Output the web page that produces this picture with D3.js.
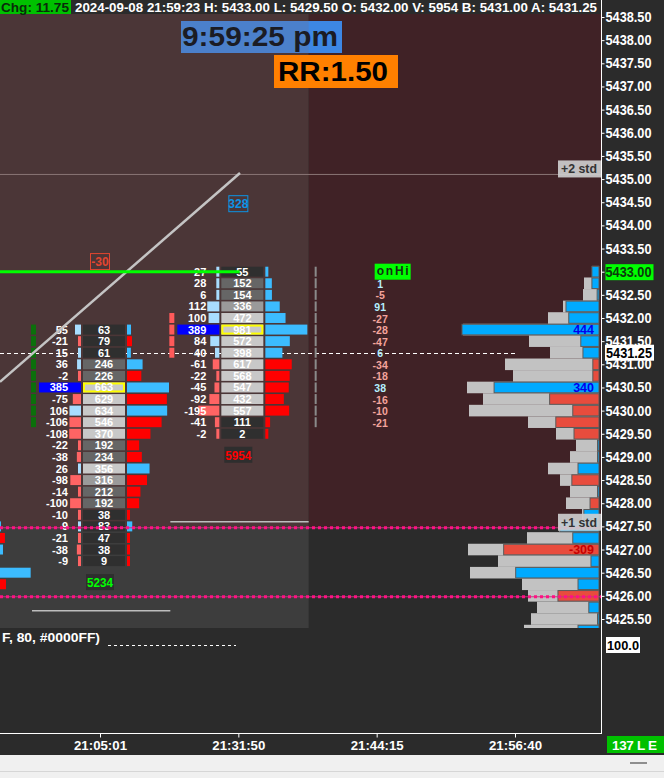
<!DOCTYPE html>
<html>
<head>
<meta charset="utf-8">
<script src="https://cdn.jsdelivr.net/npm/d3@7/dist/d3.min.js"></script>
<style>
html,body{margin:0;padding:0;background:#2b2b2b;overflow:hidden;}
svg{display:block;}
text{font-family:"Liberation Sans",Arial,Helvetica,sans-serif;}
</style>
</head>
<body>
<svg id="chart" width="664" height="778"></svg>
<script>
// ---------------- DATA ----------------
const TICK_SIZE = 0.25;
const priceTickValues = [5438.5,5438,5437.5,5437,5436.5,5436,5435.5,5435,5434.5,5434,5433.5,5433,5432.5,5432,5431.5,5431,5430.5,5430,5429.5,5429,5428.5,5428,5427.5,5427,5426.5,5426,5425.5];
const timeLabels = ["21:05:01","21:31:50","21:44:15","21:56:40"];

const headerChg = "Chg: 11.75";
const headerInfo = "2024-09-08 21:59:23 H: 5433.00 L: 5429.50 O: 5432.00 V: 5954 B: 5431.00 A: 5431.25";
const clockText = "9:59:25 pm";
const rrText = "RR:1.50";

// previous bar (almost entirely off-screen, only its right-side bars peek in)
const prevHigh = 5427.5;
const prevVolume = [164,217,191,120,560,231];
const prevDelta = [14,-25,17,6,150,-33];

// bar 0 (21:05:01)
const bar0High = 5431.75;
const bar0Volume = [63,79,61,246,226,663,629,634,546,370,192,234,356,316,212,192,38,83,47,38,9];
const bar0Delta  = [55,-21,15,36,-2,385,-75,106,-106,-108,-22,-38,26,-98,-14,-100,-10,9,-21,-38,-9];
const bar0Marks  = [5431.75,5431.5,5431.25,5431,5430.75,5430.5,5430.25,5430,5429.75];

// bar 1 (21:31:50)
const bar1High = 5433.0;
const bar1Volume = [55,152,154,336,472,981,572,398,617,568,547,432,557,111,2];
const bar1Delta  = [27,28,6,112,100,389,84,40,-61,-22,-45,-92,-195,-41,-2];
const bar1Marks  = [5432,5431.75,5431.5,5431.25];

// bar 2 (21:44:15) – delta only
const bar2High = 5432.75;
const bar2Delta = [1,-5,91,-27,-28,-47,6,-34,-18,38,-16,-10,-21];
const bar2Marks = [5433,5432.75,5432.5,5432.25,5432,5431.75,5431.5,5431.25,5431,5430.75,5430.5,5430.25,5430,5429.75];

// session volume profile (right side)
const profileHigh = 5433.0;
const profileVolume = [70,150,160,360,510,1360,700,490,940,860,1320,1160,1300,710,430,230,290,510,390,290,330,170,400,720,1310,1010,1290,770,710,620,680,750];
const profileDelta  = [23,23,6,107,98,444,59,52,-20,-20,340,-160,-85,-140,-81,3,2,68,-88,3,-29,49,127,85,-309,26,270,68,-133,33,3,68];

const lastPrice = 5431.25;
const onHiPrice = 5433.0;
const onHiSpan = [-1, 1.01];
const std2Price = 5435.1;
const std1Price = 5427.47;
const vwapPrice = 5425.98;
const barLineBars = [0, 1];
const barLinePrices = [5425.68, 5427.6];
const trendBars = [-0.723, 1.012];
const trendPrices = [5430.62, 5435.13];
const lowerPaneValue = "100.0";
const lowerPaneText = "F, 80, #0000FF)";
const statusText = "137 L E";

// ---------------- SCALES ----------------
const y = d3.scaleLinear().domain([5438.5, 5425.5]).range([17, 619]);
const rowH = y(5438.25) - y(5438.5);
const x = d3.scaleLinear().domain([0, 3]).range([100, 515]);
const barStart = i => x(i) - 68;
const PANE_TOP = 14, PANE_BOT = 628, PLOT_R = 601, AXIS_Y = 733;

const svg = d3.select("#chart");
svg.append("rect").attr("width",664).attr("height",778).attr("fill","#2b2b2b");
svg.append("defs").append("clipPath").attr("id","pane")
  .append("rect").attr("x",0).attr("y",PANE_TOP).attr("width",PLOT_R).attr("height",PANE_BOT-PANE_TOP);
const pane = svg.append("g").attr("clip-path","url(#pane)");

// ---------------- BACKGROUNDS ----------------
const splitX = barStart(2);
const tintBottom = y(std1Price);
pane.append("rect").attr("x",0).attr("y",PANE_TOP).attr("width",splitX).attr("height",PANE_BOT-PANE_TOP).attr("fill","#3d3d3d");
pane.append("rect").attr("x",0).attr("y",PANE_TOP).attr("width",splitX).attr("height",tintBottom-PANE_TOP).attr("fill","#4b3637");
pane.append("rect").attr("x",splitX).attr("y",PANE_TOP).attr("width",PLOT_R-splitX).attr("height",tintBottom-PANE_TOP).attr("fill","#402226");

// +2 std line
pane.append("line").attr("x1",0).attr("x2",PLOT_R).attr("y1",y(std2Price)).attr("y2",y(std2Price))
  .attr("stroke","#8a7575").attr("stroke-width",1);

// last price dashed line
pane.append("line").attr("x1",0).attr("x2",x(3)).attr("y1",Math.round(y(lastPrice))+0.5).attr("y2",Math.round(y(lastPrice))+0.5)
  .attr("stroke","#ffffff").attr("stroke-width",1).attr("stroke-dasharray","4,3");

// ---------------- PROFILE ----------------
const PR = 599;
const profRows = profileVolume.map((v,i)=>({p: profileHigh - i*TICK_SIZE, v, d: profileDelta[i]}));
const volW = d3.scaleLinear().domain([0,1400]).range([0,140]);
const dW = d3.scaleLinear().domain([0,444]).range([0,137]);
const pg = pane.append("g");
pg.selectAll("rect.pv").data(profRows).join("rect").attr("class","pv")
  .attr("x",d=>PR-volW(d.v)).attr("y",d=>y(d.p)-rowH/2).attr("width",d=>volW(d.v)).attr("height",rowH)
  .attr("fill","#c2c2c2");
pg.selectAll("rect.pd").data(profRows).join("rect").attr("class","pd")
  .attr("x",d=>PR-Math.max(1.5,dW(Math.abs(d.d)))).attr("y",d=>y(d.p)-rowH/2+0.5)
  .attr("width",d=>Math.max(1.5,dW(Math.abs(d.d)))).attr("height",rowH-1)
  .attr("fill",d=>d.d>=0?"#00aaff":"#e84c3d").attr("stroke","#5a5a5a").attr("stroke-width",1);
pg.selectAll("text.pl").data(profRows.filter(d=>Math.abs(d.d)>=300)).join("text").attr("class","pl")
  .attr("x",PR-5).attr("y",d=>y(d.p)+4.5).attr("text-anchor","end")
  .attr("font-size",12.5).attr("font-weight","bold")
  .attr("fill",d=>d.d>=0?"#0000ee":"#c80000").text(d=>d.d);

// ---------------- FOOTPRINT ----------------
const cellColor = d3.scaleThreshold().domain([120,300,350]).range(["#2f2f2f","#666666","#9a9a9a","#c8c8c8"]);
function drawFootprint(cx, high, vols, deltas) {
  const g = pane.append("g");
  const maxV = d3.max(vols), maxD = d3.max(deltas, d=>Math.abs(d));
  const wV = d3.scaleLinear().domain([0,maxV]).range([0,42]);
  const wD = d3.scaleLinear().domain([0,maxD]).range([0,42]);
  const rows = vols.map((v,i)=>({p: high - i*TICK_SIZE, v, d: deltas[i]}));
  const top = d => y(d.p) - rowH/2 + 0.8, hh = rowH - 1.6;
  g.selectAll("rect.db").data(rows).join("rect").attr("class","db")
    .attr("x",d=>cx-19-(Math.abs(d.d)===maxD?42:Math.max(3,wD(Math.abs(d.d)))))
    .attr("y",top).attr("height",hh)
    .attr("width",d=>Math.abs(d.d)===maxD?42:Math.max(3,wD(Math.abs(d.d))))
    .attr("fill",d=>Math.abs(d.d)===maxD?"#0000ff":(d.d>=0?"#a8ddff":"#ff6464"));
  g.selectAll("rect.vc").data(rows).join("rect").attr("class","vc")
    .attr("x",cx-17).attr("y",top).attr("width",42).attr("height",hh)
    .attr("fill",d=>cellColor(d.v));
  g.selectAll("rect.poc").data(rows.filter(d=>d.v===maxV)).join("rect").attr("class","poc")
    .attr("x",cx-16).attr("y",d=>top(d)+1).attr("width",40).attr("height",hh-2)
    .attr("fill","none").attr("stroke","#ffff00").attr("stroke-width",2);
  g.selectAll("rect.rb").data(rows).join("rect").attr("class","rb")
    .attr("x",cx+27).attr("y",top).attr("height",hh)
    .attr("width",d=>Math.max(3,wV(d.v)))
    .attr("fill",d=>d.d>=0?"#3cbcff":"#ff0000");
  g.selectAll("text.dt").data(rows).join("text").attr("class","dt")
    .attr("x",cx-32).attr("y",d=>y(d.p)+4).attr("text-anchor","end")
    .attr("font-size",11).attr("font-weight","bold").attr("fill","#ffffff").text(d=>d.d);
  g.selectAll("text.vt").data(rows).join("text").attr("class","vt")
    .attr("x",cx+4).attr("y",d=>y(d.p)+4).attr("text-anchor","middle")
    .attr("font-size",11).attr("font-weight","bold").attr("fill","#ffffff").text(d=>d.v);
  return {low: high - (vols.length-1)*TICK_SIZE, total: d3.sum(vols), net: d3.sum(deltas)};
}

// previous bar's right-side bars
(function(){
  const cx = x(-1);
  const maxV = d3.max(prevVolume);
  const wV = d3.scaleLinear().domain([0,maxV]).range([0,42]);
  const rows = prevVolume.map((v,i)=>({p: prevHigh - i*TICK_SIZE, v, d: prevDelta[i]}));
  pane.append("g").selectAll("rect").data(rows).join("rect")
    .attr("x",cx+27).attr("y",d=>y(d.p)-rowH/2+0.8).attr("height",rowH-1.6)
    .attr("width",d=>Math.max(3,wV(d.v))).attr("fill",d=>d.d>=0?"#3cbcff":"#ff0000");
})();

const b0 = drawFootprint(x(0), bar0High, bar0Volume, bar0Delta);
const b1 = drawFootprint(x(1), bar1High, bar1Volume, bar1Delta);

function marks(i, prices, color, w, off) {
  pane.append("g").selectAll("rect").data(prices).join("rect")
    .attr("x",x(i)+off).attr("y",p=>y(p)-rowH/2+0.8).attr("width",w).attr("height",rowH-1.6).attr("fill",color);
}
marks(0, bar0Marks, "#0b700b", 5, -69);
marks(1, bar1Marks, "#ff5a5a", 5, -69);
marks(2, bar2Marks, "#8a8a8a", 2, -62);

// bar 2 delta numbers
const b2rows = bar2Delta.map((d,i)=>({p: bar2High - i*TICK_SIZE, d}));
pane.append("g").selectAll("text").data(b2rows).join("text")
  .attr("x",x(2)+3.5).attr("y",d=>y(d.p)+4.5).attr("text-anchor","middle")
  .attr("font-size",10.5).attr("font-weight","bold")
  .attr("fill",d=>d.d>=0?"#b4f0ff":"#f4a49c").text(d=>d.d);
// onHi label
pane.append("rect").attr("x",x(2)-2).attr("y",y(onHiPrice)-8).attr("width",36).attr("height",16).attr("fill","#00ff00");
pane.append("text").attr("x",x(2)).attr("y",y(onHiPrice)+3.5).attr("font-size",12).attr("font-weight","bold")
  .attr("fill","#143014").attr("textLength",32).attr("lengthAdjust","spacing").text("onHi");

// bar period horizontal lines
barLineBars.forEach((b,i)=>{
  pane.append("line").attr("x1",barStart(b)).attr("x2",barStart(b+1)).attr("y1",y(barLinePrices[i])).attr("y2",y(barLinePrices[i]))
    .attr("stroke","#bdbdbd").attr("stroke-width",1.5);
});

// net delta boxes and totals
[[0,b0,bar0High,"#00ff00"],[1,b1,bar1High,"#ff0000"]].forEach(([i,b,high,tc])=>{
  const cx = x(i);
  const nc = b.net<0 ? "#e2452f" : "#0c94e6";
  const ny = y(high) - 68;
  pane.append("rect").attr("x",cx-9.5).attr("y",ny-8).attr("width",19).attr("height",16)
    .attr("fill","none").attr("stroke",nc).attr("stroke-width",1);
  pane.append("text").attr("x",cx).attr("y",ny+4.5).attr("text-anchor","middle").attr("font-size",12)
    .attr("font-weight","bold").attr("fill",nc).text(b.net);
  const ty = y(b.low) + 21;
  pane.append("rect").attr("x",cx-14).attr("y",ty-8).attr("width",28).attr("height",16).attr("fill","#2e2e2e");
  pane.append("text").attr("x",cx).attr("y",ty+5).attr("text-anchor","middle").attr("font-size",13.5)
    .attr("font-weight","bold").attr("fill",tc).attr("textLength",26).attr("lengthAdjust","spacingAndGlyphs").text(b.total);
});

// trend line
pane.append("line").attr("x1",x(trendBars[0])).attr("y1",y(trendPrices[0])).attr("x2",x(trendBars[1])).attr("y2",y(trendPrices[1]))
  .attr("stroke","#c4c4c4").attr("stroke-width",2.5);
// onHi green line
pane.append("line").attr("x1",x(onHiSpan[0])).attr("x2",x(onHiSpan[1])).attr("y1",y(onHiPrice)).attr("y2",y(onHiPrice))
  .attr("stroke","#00ff00").attr("stroke-width",3);
// pink dotted lines
[std1Price, vwapPrice].forEach(p=>{
  pane.append("line").attr("x1",0).attr("x2",PLOT_R).attr("y1",y(p)).attr("y2",y(p)).attr("stroke","#c8347c").attr("stroke-width",1);
  pane.append("line").attr("x1",0).attr("x2",PLOT_R).attr("y1",y(p)).attr("y2",y(p)).attr("stroke","#ff1184")
    .attr("stroke-width",3).attr("stroke-dasharray","3,3");
});
// std labels
[[std2Price,"+2 std"],[std1Price,"+1 std"]].forEach(([p,t])=>{
  const by = y(p) + 3;
  pane.append("rect").attr("x",558).attr("y",by-17).attr("width",43).attr("height",17).attr("fill","#cdcdcd").attr("opacity",0.92);
  pane.append("text").attr("x",561).attr("y",by-4).attr("font-size",12.5).attr("font-weight","bold").attr("fill","#333")
    .attr("textLength",36).attr("lengthAdjust","spacingAndGlyphs").text(t);
});

// clock and RR
pane.append("rect").attr("x",181).attr("y",21).attr("width",161).attr("height",32).attr("fill","#4b80cb");
pane.append("rect").attr("x",splitX).attr("y",21).attr("width",342-splitX).attr("height",32).attr("fill","#3d87e4");
pane.append("text").attr("x",182).attr("y",46).attr("font-size",27).attr("font-weight","bold").attr("fill","#1b1c24")
  .attr("textLength",156).attr("lengthAdjust","spacingAndGlyphs").text(clockText);
pane.append("rect").attr("x",274).attr("y",55).attr("width",124).attr("height",33).attr("fill","#ff8000");
pane.append("text").attr("x",278).attr("y",81).attr("font-size",27).attr("font-weight","bold").attr("fill","#000")
  .attr("textLength",110).attr("lengthAdjust","spacingAndGlyphs").text(rrText);

// ---------------- HEADER ----------------
svg.append("rect").attr("x",0).attr("y",0).attr("width",664).attr("height",PANE_TOP).attr("fill","#2b2b2b");
svg.append("rect").attr("x",0).attr("y",0).attr("width",71).attr("height",PANE_TOP).attr("fill","#00c000");
svg.append("text").attr("x",1).attr("y",11.5).attr("font-size",12.5).attr("font-weight","bold").attr("fill","#0a2a0a")
  .attr("textLength",68).attr("lengthAdjust","spacingAndGlyphs").text(headerChg);
svg.append("text").attr("x",75).attr("y",11.5).attr("font-size",12.5).attr("font-weight","bold").attr("fill","#ffffff")
  .attr("textLength",522).attr("lengthAdjust","spacingAndGlyphs").text(headerInfo);

// ---------------- AXES ----------------
const yAxisG = svg.append("g").attr("transform",`translate(${PLOT_R+0.5},0)`)
  .call(d3.axisRight(y).tickValues(priceTickValues).tickSize(3).tickPadding(1).tickFormat(d3.format(".2f")));
yAxisG.select(".domain").remove();
yAxisG.selectAll(".tick line").attr("stroke","#ffffff");
yAxisG.selectAll(".tick text").attr("fill","#ffffff").attr("font-size",14).attr("font-weight","bold")
  .attr("font-family","'Liberation Sans',Arial,sans-serif")
  .attr("textLength",46).attr("lengthAdjust","spacingAndGlyphs");
yAxisG.selectAll(".tick").filter(d=>d===onHiPrice).each(function(){
  const t = d3.select(this);
  t.insert("rect","text").attr("x",4).attr("y",-8).attr("width",48).attr("height",16).attr("fill","#00ff00");
  t.select("text").attr("fill","#0c3a0c");
});
// last price label (covers neighbouring tick labels, as in the platform)
svg.append("rect").attr("x",605).attr("y",y(lastPrice)-8).attr("width",49).attr("height",16).attr("fill","#ffffff");
svg.append("text").attr("x",606).attr("y",y(lastPrice)+5).attr("font-size",14).attr("font-weight","bold").attr("fill","#000")
  .attr("textLength",46).attr("lengthAdjust","spacingAndGlyphs").text(d3.format(".2f")(lastPrice));

const xAxisG = svg.append("g").attr("transform",`translate(0,${AXIS_Y+0.5})`)
  .call(d3.axisBottom(x).tickValues([0,1,2,3]).tickSize(4).tickPadding(3).tickFormat(i=>timeLabels[i]));
xAxisG.select(".domain").remove();
xAxisG.selectAll(".tick line").attr("stroke","#ffffff");
xAxisG.selectAll(".tick text").attr("fill","#ffffff").attr("font-size",13).attr("font-weight","bold")
  .attr("font-family","'Liberation Sans',Arial,sans-serif")
  .attr("textLength",53).attr("lengthAdjust","spacingAndGlyphs");

svg.append("line").attr("x1",0).attr("x2",PLOT_R+1).attr("y1",AXIS_Y+0.5).attr("y2",AXIS_Y+0.5).attr("stroke","#fff");
svg.append("line").attr("x1",PLOT_R+0.5).attr("x2",PLOT_R+0.5).attr("y1",0).attr("y2",AXIS_Y+1).attr("stroke","#fff");

// ---------------- LOWER PANE ----------------
svg.append("text").attr("x",2).attr("y",642).attr("font-size",13).attr("font-weight","bold").attr("fill","#fff")
  .attr("textLength",98).attr("lengthAdjust","spacingAndGlyphs").text(lowerPaneText);
svg.append("line").attr("x1",108).attr("x2",236).attr("y1",645.5).attr("y2",645.5).attr("stroke","#fff").attr("stroke-dasharray","3,3");
svg.append("rect").attr("x",606).attr("y",637).attr("width",34).attr("height",16).attr("fill","#fff");
svg.append("text").attr("x",607).attr("y",649.5).attr("font-size",13).attr("font-weight","bold").attr("fill","#000")
  .attr("textLength",32).attr("lengthAdjust","spacingAndGlyphs").text(lowerPaneValue);

// status box
svg.append("rect").attr("x",607).attr("y",736).attr("width",57).attr("height",17).attr("fill","#00c000");
svg.append("text").attr("x",612).attr("y",749.5).attr("font-size",13.5).attr("font-weight","bold").attr("fill","#fff")
  .attr("textLength",45).attr("lengthAdjust","spacing").text(statusText);

// bottom strip
svg.append("rect").attr("x",0).attr("y",755).attr("width",664).attr("height",23).attr("fill","#f0f0f0");
svg.append("line").attr("x1",0).attr("x2",664).attr("y1",771.5).attr("y2",771.5).attr("stroke","#d6d6d6");
svg.append("rect").attr("x",630).attr("y",762).attr("width",17).attr("height",2).attr("fill","#8e8e8e");
</script>
</body>
</html>
